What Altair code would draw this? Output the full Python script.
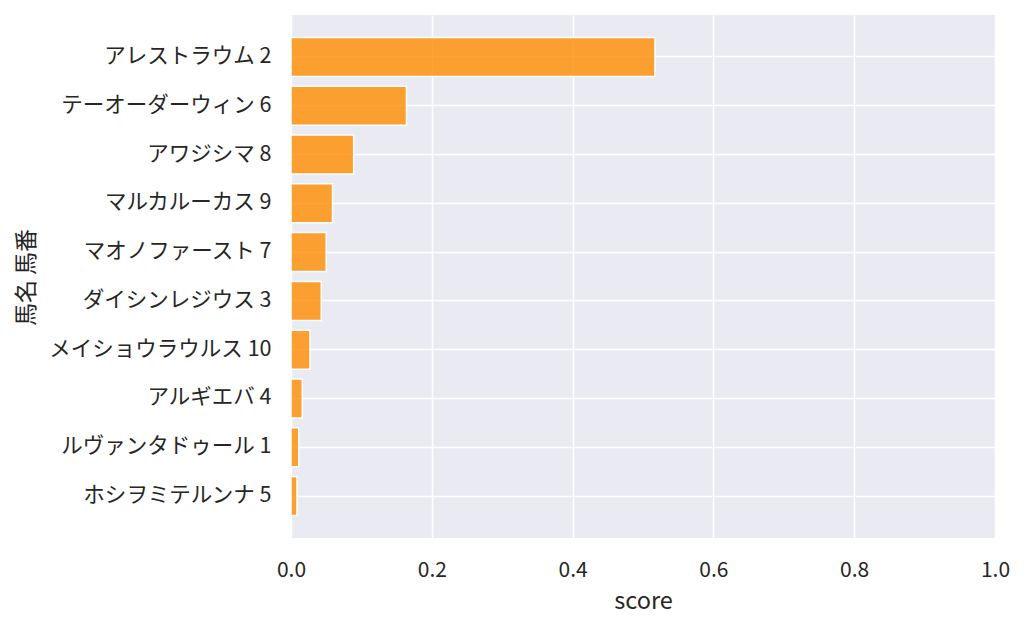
import altair as alt
import pandas as pd

horses = ["アレストラウム 2", "テーオーダーウィン 6", "アワジシマ 8", "マルカルーカス 9",
          "マオノファースト 7", "ダイシンレジウス 3", "メイショウラウルス 10", "アルギエバ 4",
          "ルヴァンタドゥール 1", "ホシヲミテルンナ 5"]
scores = [0.517, 0.164, 0.089, 0.059, 0.050, 0.043, 0.027, 0.016, 0.011, 0.0085]

df = pd.DataFrame({"horse": horses, "score": scores})
FONT = "Noto Sans CJK JP"

chart = alt.Chart(df).mark_bar(
    fill="#FF8C00", fillOpacity=0.8, stroke="white", strokeWidth=1.5
).encode(
    x=alt.X("score:Q", title="score",
            scale=alt.Scale(domain=[0, 1], nice=False, zero=True),
            axis=alt.Axis(values=[0, 0.2, 0.4, 0.6, 0.8, 1.0], format=".1f",
                          grid=True, gridColor="white", gridWidth=1.5,
                          domain=False, ticks=False, labelPadding=21, labelFlush=False,
                          labelFontSize=21, titleFontSize=23.5, titlePadding=9,
                          labelColor="#262626", titleColor="#262626",
                          labelFont=FONT, titleFont=FONT, titleFontWeight="normal")),
    y=alt.Y("horse:N", title="馬名 馬番", sort=horses,
            scale=alt.Scale(paddingInner=0.2, paddingOuter=0.46),
            axis=alt.Axis(grid=True, gridColor="white", gridWidth=1.5, bandPosition=0.5,
                          domain=False, ticks=False, labelPadding=20,
                          labelFontSize=21.5, titleFontSize=23,
                          titleX=-253, titleY=262, titleAngle=270,
                          titleAlign="center", titleBaseline="bottom",
                          labelColor="#262626", titleColor="#262626",
                          labelFont=FONT, titleFont=FONT, titleFontWeight="normal",
                          labelLimit=400)),
).properties(
    width=704, height=523,
    background="white",
    autosize=alt.AutoSizeParams(type="none"),
    padding={"left": 283, "top": 7, "right": 20, "bottom": 80},
).configure_view(
    fill="#EAEAF2", strokeWidth=0
)

chart.save("out.html", embed_options={"renderer": "svg", "actions": False})
